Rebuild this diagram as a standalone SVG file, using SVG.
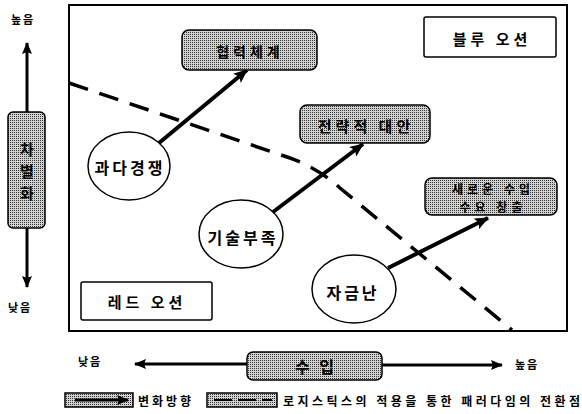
<svg xmlns="http://www.w3.org/2000/svg" width="582" height="414" viewBox="0 0 582 414">
<defs>
<pattern id="stip" width="2" height="2" patternUnits="userSpaceOnUse">
<rect width="2" height="2" fill="#d2d2d2"/>
<rect width="1" height="1" fill="#333"/>
</pattern>
<marker id="ah" viewBox="0 0 14 12" refX="13" refY="6" markerWidth="14" markerHeight="12" markerUnits="userSpaceOnUse" orient="auto">
<path d="M0,0 L14,6 L0,12 L3,6 Z" fill="#000"/>
</marker>
<marker id="ahs" viewBox="0 0 12 10" refX="11" refY="5" markerWidth="12" markerHeight="10" markerUnits="userSpaceOnUse" orient="auto">
<path d="M0,0 L12,5 L0,10 L2,5 Z" fill="#000"/>
</marker>
</defs>
<style>
text{font-family:"Noto Sans CJK KR","Noto Sans",sans-serif;font-weight:bold;fill:#000;text-anchor:middle;dominant-baseline:central}
.gbox{fill:url(#stip);stroke:#000;stroke-width:1.5}
.wbox{fill:#fff;stroke:#000;stroke-width:1.5}
.ell{fill:#fff;stroke:#000;stroke-width:1.5}
.arr{stroke:#000;stroke-width:4;fill:none;marker-end:url(#ah)}
.axis{stroke:#000;stroke-width:3;fill:none;marker-end:url(#ahs)}
.dash{stroke:#000;stroke-width:3.5;fill:none;stroke-dasharray:20 12}
.t16{font-size:16px;letter-spacing:3px}
.t15{font-size:15px;letter-spacing:4px}
.t14{font-size:14px;letter-spacing:4px}
.t11{font-size:11px;letter-spacing:2px}
</style>
<rect x="69" y="5" width="498" height="326" fill="none" stroke="#000" stroke-width="2"/>
<g id="connectors">
<path class="dash" d="M69,83 L290,158 Q318,168 340,188 L512,330"/>
<line class="arr" x1="159" y1="143" x2="247" y2="70"/>
<line class="arr" x1="273" y1="212" x2="363" y2="144"/>
<line class="arr" x1="388" y1="268" x2="488" y2="218"/>
<line class="axis" x1="27" y1="112" x2="27" y2="43"/>
<line class="axis" x1="27" y1="228" x2="27" y2="287"/>
<line class="axis" x1="247" y1="364" x2="135" y2="364"/>
<line class="axis" x1="382" y1="365" x2="502" y2="365"/>
</g>
<g id="axis-y">
<text class="t11" x="23" y="19">높음</text>
<rect class="gbox" x="8" y="112" width="37" height="116" rx="5"/>
<text x="27" y="148" style="font-size:15px">차</text>
<text x="27" y="170" style="font-size:15px">별</text>
<text x="27" y="192" style="font-size:15px">화</text>
<text class="t11" x="20" y="307">낮음</text>
</g>
<g id="axis-x">
<text class="t11" x="90" y="361">낮음</text>
<rect class="gbox" x="247" y="352" width="135" height="28" rx="6"/>
<text class="t16" x="316" y="366">수 입</text>
<text class="t11" x="527" y="364">높음</text>
</g>
<g id="n-cooperation">
<rect class="gbox" x="182" y="30" width="135" height="40" rx="7"/>
<text class="t14" x="250" y="51">협력체계</text>
</g>
<g id="n-blueocean">
<rect class="wbox" x="424" y="17" width="132" height="40" rx="2"/>
<text class="t15" x="492" y="38">블루 오션</text>
</g>
<g id="n-strategy">
<rect class="gbox" x="300" y="105" width="130" height="38" rx="7"/>
<text class="t15" x="366" y="125">전략적 대안</text>
</g>
<g id="n-newdemand">
<rect class="gbox" x="425" y="178" width="132" height="37" rx="7"/>
<text x="493" y="188" style="font-size:12px;letter-spacing:4px">새로운 수입</text>
<text x="493" y="206" style="font-size:12px;letter-spacing:4px">수요 창출</text>
</g>
<g id="n-competition">
<ellipse class="ell" cx="129" cy="166" rx="41" ry="34"/>
<text class="t16" x="130" y="167">과다경쟁</text>
</g>
<g id="n-technology">
<ellipse class="ell" cx="241" cy="234" rx="42" ry="34"/>
<text class="t16" x="243" y="237">기술부족</text>
</g>
<g id="n-funds">
<ellipse class="ell" cx="354" cy="289" rx="42" ry="34"/>
<text class="t16" x="353" y="292">자금난</text>
</g>
<g id="n-redocean">
<rect class="wbox" x="81" y="282" width="131" height="38" rx="2"/>
<text class="t15" x="147" y="301">레드 오션</text>
</g>
<g id="legend">
<rect class="gbox" x="65" y="393" width="68" height="14"/>
<line x1="75" y1="400" x2="128" y2="400" stroke="#000" stroke-width="3" marker-end="url(#ahs)"/>
<text x="166" y="400" style="font-size:12px;letter-spacing:3px">변화방향</text>
<rect class="gbox" x="207" y="393" width="70" height="14"/>
<path d="M214,400 L272,400" stroke="#000" stroke-width="2" stroke-dasharray="18 6" fill="none"/>
<text x="283" y="400" style="font-size:12px;text-anchor:start" textLength="297" lengthAdjust="spacing">로지스틱스의 적용을 통한 패러다임의 전환점</text>
</g>
</svg>
